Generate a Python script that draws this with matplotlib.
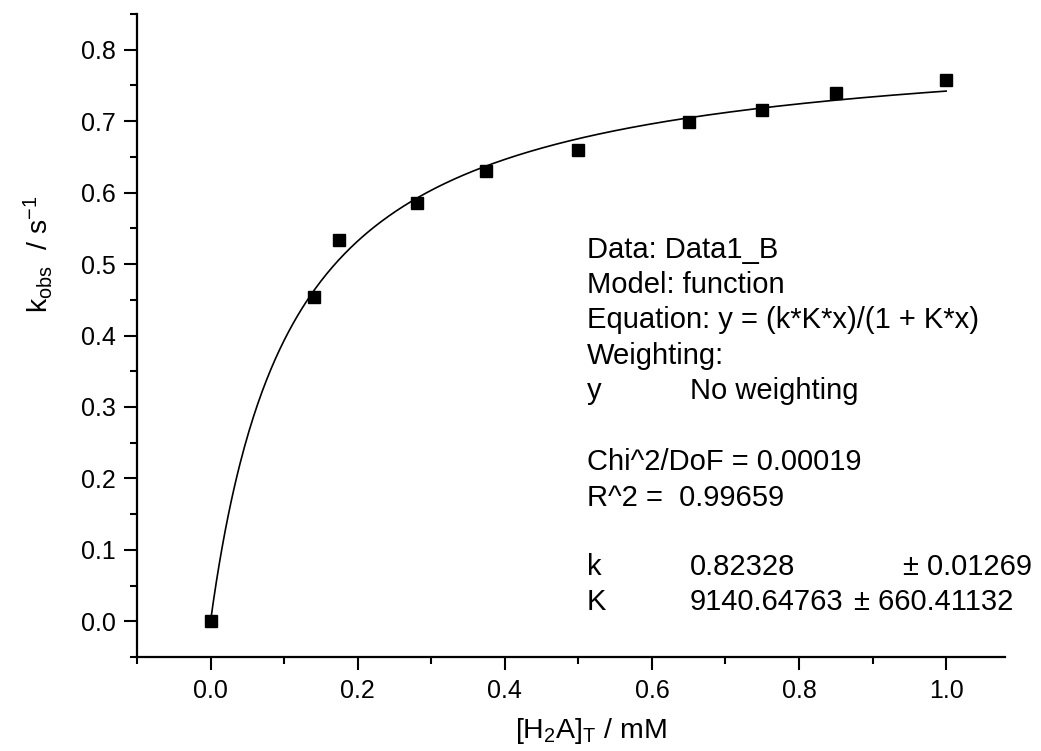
import numpy as np
import matplotlib
matplotlib.use("Agg")
import matplotlib.pyplot as plt
from matplotlib.ticker import MultipleLocator, FixedLocator, FixedFormatter

plt.rcParams['font.family'] = ['Liberation Sans', 'DejaVu Sans']
plt.rcParams['mathtext.fontset'] = 'custom'
plt.rcParams['mathtext.rm'] = 'Liberation Sans'
plt.rcParams['mathtext.it'] = 'Liberation Sans:italic'
plt.rcParams['mathtext.bf'] = 'Liberation Sans:bold'
plt.rcParams['xtick.labelsize'] = 18
plt.rcParams['ytick.labelsize'] = 18

# ---- data ----
conc_mM = [0.0, 0.14, 0.175, 0.28, 0.375, 0.50, 0.65, 0.75, 0.85, 1.00]
k_obs = [0.000, 0.454, 0.534, 0.586, 0.630, 0.659, 0.699, 0.715, 0.739, 0.758]

# fit parameters shown in the chart
k_fit = 0.82328
K_fit = 9140.64763  # M^-1
fit_x_range = (0.0, 1.0)

x_ticks = [0.0, 0.2, 0.4, 0.6, 0.8, 1.0]
y_ticks = [0.0, 0.1, 0.2, 0.3, 0.4, 0.5, 0.6, 0.7, 0.8]
x_tick_labels = ["0.0", "0.2", "0.4", "0.6", "0.8", "1.0"]
y_tick_labels = ["0.0", "0.1", "0.2", "0.3", "0.4", "0.5", "0.6", "0.7", "0.8"]

W, H = 1041, 751
fig = plt.figure(figsize=(W / 100, H / 100), dpi=100)


def fx(px):
    return px / W


def fy(py):
    return 1 - py / H


ax = fig.add_axes([fx(137), fy(657), fx(1005) - fx(137), fy(14) - fy(657)])

xf = np.linspace(fit_x_range[0], fit_x_range[1], 500)
yf = k_fit * (K_fit * 1e-3) * xf / (1 + (K_fit * 1e-3) * xf)
ax.plot(xf, yf, color='black', lw=1.2, zorder=2)
ax.plot(conc_mM, k_obs, ls='none', marker='s', ms=9, color='black', zorder=3)

ax.set_xlim(-0.1, 1.08)
ax.set_ylim(-0.05, 0.85)
ax.xaxis.set_major_locator(FixedLocator(x_ticks))
ax.xaxis.set_major_formatter(FixedFormatter(x_tick_labels))
ax.yaxis.set_major_locator(FixedLocator(y_ticks))
ax.yaxis.set_major_formatter(FixedFormatter(y_tick_labels))
ax.xaxis.set_minor_locator(MultipleLocator(0.1))
ax.yaxis.set_minor_locator(MultipleLocator(0.05))

for s in ['top', 'right']:
    ax.spines[s].set_visible(False)
for s in ['left', 'bottom']:
    ax.spines[s].set_linewidth(1.6)

ax.tick_params(which='major', direction='out', length=9.5, width=1.5,
               labelsize=18, pad=6)
ax.tick_params(which='minor', direction='out', length=5, width=1.5)

# axis labels
fig.text(fx(38), fy(254), r'$\mathrm{k_{obs}}$  / s$^{\mathrm{-1}}$',
         rotation=90, ha='center', va='center', fontsize=20.5)
fig.text(fx(591), fy(738), r'$\mathrm{[H_{2}A]_{T}}$ / mM',
         ha='center', va='baseline', fontsize=20.5)

# fit report text
fs = 21
x0, x1 = 587, 690
lines = [
    (258, "Data: Data1_B"),
    (293, "Model: function"),
    (328, "Equation: y = (k*K*x)/(1 + K*x)"),
    (364, "Weighting:"),
    (470, "Chi^2/DoF = 0.00019"),
    (506, "R^2 =  0.99659"),
]
for py, t in lines:
    fig.text(fx(x0), fy(py), t, ha='left', va='baseline', fontsize=fs)

fig.text(fx(x0), fy(399), "y", ha='left', va='baseline', fontsize=fs)
fig.text(fx(x1), fy(399), "No weighting", ha='left', va='baseline', fontsize=fs)

fig.text(fx(x0), fy(575), "k", ha='left', va='baseline', fontsize=fs)
fig.text(fx(x1), fy(575), "0.82328", ha='left', va='baseline', fontsize=fs)
fig.text(fx(903), fy(575), "± 0.01269", ha='left', va='baseline', fontsize=fs)

fig.text(fx(x0), fy(610), "K", ha='left', va='baseline', fontsize=fs)
fig.text(fx(x1), fy(610), "9140.64763", ha='left', va='baseline', fontsize=fs)
fig.text(fx(854), fy(610), "± 660.41132", ha='left', va='baseline', fontsize=fs)

fig.savefig("out.png", dpi=100)
